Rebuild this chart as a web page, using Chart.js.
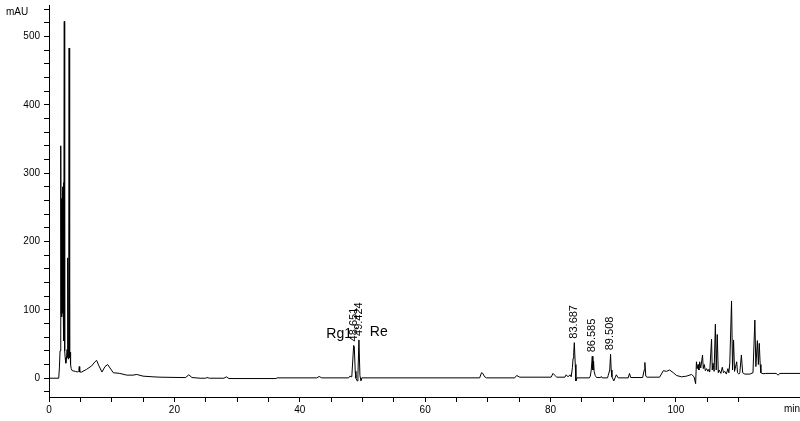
<!DOCTYPE html>
<html>
<head>
<meta charset="utf-8">
<script src="https://cdn.jsdelivr.net/npm/chart.js@4/dist/chart.umd.min.js"></script>
<style>
  body { margin: 0; background: #fff; }
  canvas { display: block; }
</style>
</head>
<body>
<canvas id="chromChart" width="800" height="421"></canvas>
<script>
// retention time (min) and detector signal (mAU)
var times = [
  0, 1.55, 1.66, 1.76, 1.84, 1.91, 1.95, 1.98, 2.01, 2.04, 2.07, 2.10, 2.13, 2.16, 2.19,
  2.22, 2.25, 2.28, 2.31, 2.34, 2.38, 2.44, 2.50, 2.58, 2.68, 2.78, 2.88, 2.95, 3.01,
  3.07, 3.13, 3.21, 3.27, 3.32, 3.37, 3.44, 3.54, 3.70, 4.20, 4.60, 4.76, 4.83, 4.90,
  5.2, 6.0, 6.8, 7.33, 7.6, 7.92, 8.45, 8.93, 9.36, 9.73, 10.26, 11.3, 12.4, 13.4, 14.0,
  15.0, 16.6, 17.7, 20.9, 21.8, 22.3, 22.8, 24.1, 25.0, 25.2, 25.6, 27.9, 28.3, 28.7,
  36.2, 36.4, 42.7, 43.1, 43.5, 47.8, 48.0, 48.3, 48.6, 48.7, 48.85, 48.96, 49.17,
  49.28, 49.44, 49.6, 49.76, 49.9, 68.7, 69.0, 69.2, 69.5, 69.8, 74.3, 74.6, 75.1,
  80.1, 80.4, 80.6, 81.0, 82.3, 82.5, 82.8, 83.1, 83.3, 83.5, 83.6, 83.7, 83.8, 83.95,
  84.05, 84.25, 86.2, 86.35, 86.5, 86.66, 86.76, 86.87, 86.96, 87.13, 87.35, 88.0,
  88.1, 88.25, 89.1, 89.2, 89.45, 89.58, 89.68, 89.8, 90.1, 90.3, 90.5, 90.8, 92.4,
  92.6, 92.8, 94.7, 94.95, 95.05, 95.2, 95.4, 97.4, 98.0, 98.5, 99.0, 99.6, 100.1,
  100.9, 101.7, 102.5, 102.9, 103.15, 103.28, 103.4, 103.55, 103.67, 103.8, 103.97,
  104.25, 104.37, 104.53, 104.7, 104.9, 105.1, 105.26, 105.4, 105.69, 105.8, 105.93,
  106.1, 106.3, 106.44, 106.6, 106.76, 106.9, 107.18, 107.4, 107.6, 107.8, 108.05,
  108.3, 108.45, 108.6, 108.88, 109.04, 109.2, 109.36, 109.7, 109.83, 110.05, 110.2,
  110.45, 110.65, 111.0, 111.8, 112.3, 112.6, 112.76, 113.0, 113.16, 113.3, 113.45,
  113.56, 113.9, 114.35, 116.0, 116.3, 116.6, 119.8
];
var signal = [
  0, 0, 15, 40, 58, 340, 95, 262, 100, 263, 90, 250, 95, 270, 110,
  280, 120, 286, 130, 240, 55, 522, 40, 30, 22, 28, 42, 30, 176,
  28, 36, 483, 40, 30, 38, 20, 14, 11, 10, 9, 11, 17, 9,
  9, 13, 18, 24, 26, 19, 9, 17, 20, 15, 8, 7, 4.5, 4.5, 5.5,
  3, 2, 1.5, 1, 1, 5, 1, 0, 0, 1, 0, 0, 2, -0.5,
  -0.5, 0.5, 0.5, 2.5, 0.5, 0.5, 3, 2, 48, 46, 10, 0, -4,
  5, 56, 4, -4, 0.5, 0.5, 8, 7, 2, 0.5, 0.5, 4, 1.5,
  1.5, 7, 5, 1.5, 1.5, 5, 2, 5, 2, 16, 29, 37, 52, 20,
  -4, 0.5, 0.5, 3, 12, 32, 12, 25, 10, 4, 1, 1,
  2.5, 0.5, 0.5, 4, 12, 35, 12, 2, -4, 0.5, 5, 0.5, 0.5,
  7, 1, 1, 12, 23, 3, 1.5, 1.5, 11, 10, 12, 8, 4,
  2, 3, 5.5, 2, -8, 24, 14, 20, 12, 24, 15,
  34, 14, 20, 11, 14, 10, 13, 9, 57, 12, 22,
  10, 79, 12, 64, 8, 12, 7, 16, 8, 10, 6,
  14, 8, 22, 113, 12, 56, 10, 24, 8, 6, 8,
  34, 8, 6, 6, 8, 85, 17, 55, 20, 51, 20,
  8, 6.5, 7, 7, 4.5, 7, 7
];

// integrated peaks: retention time label and apex height
var peakLabels = ['48.651', '49.424', '83.687', '86.585', '89.508'];
var peakTimes = [48.651, 49.424, 83.687, 86.585, 89.508];
var peakApex = [48, 56, 52, 32, 35];

// compound names next to the two ginsenoside peaks
var compoundNames = ['Rg1', 'Re'];
var compoundTimes = [48.651, 49.424];

var fontFamily = "'Liberation Sans', Arial, sans-serif";

var points = times.map(function (t, i) { return { x: t, y: signal[i] }; });

var peakText = {
  id: 'peakText',
  afterDatasetsDraw: function (chart) {
    var ctx = chart.ctx;
    var xs = chart.scales.x, ys = chart.scales.y;
    ctx.save();
    ctx.fillStyle = '#000';
    // rotated retention times above each integrated peak
    ctx.font = '11px ' + fontFamily;
    ctx.textAlign = 'left';
    ctx.textBaseline = 'middle';
    for (var i = 0; i < peakLabels.length; i++) {
      var px = xs.getPixelForValue(peakTimes[i]);
      var py = ys.getPixelForValue(peakApex[i]) - 4;
      ctx.save();
      ctx.translate(px, py);
      ctx.rotate(-Math.PI / 2);
      ctx.fillText(peakLabels[i], 0, 0);
      ctx.restore();
    }
    // compound names
    ctx.font = '14px ' + fontFamily;
    ctx.textBaseline = 'alphabetic';
    var y0 = ys.getPixelForValue(0);
    ctx.textAlign = 'right';
    ctx.fillText(compoundNames[0], xs.getPixelForValue(compoundTimes[0]) - 2, y0 - 40);
    ctx.textAlign = 'left';
    ctx.fillText(compoundNames[1], xs.getPixelForValue(compoundTimes[1]) + 11, y0 - 42);
    // axis titles
    ctx.font = '10px ' + fontFamily;
    ctx.textBaseline = 'middle';
    ctx.fillText('mAU', 6, 12);
    ctx.fillText('min', 784, 409);
    ctx.restore();
  }
};

new Chart(document.getElementById('chromChart'), {
  type: 'line',
  data: {
    datasets: [{
      data: points,
      borderColor: '#000',
      borderWidth: 1,
      pointRadius: 0,
      tension: 0,
      fill: false
    }]
  },
  options: {
    responsive: false,
    animation: false,
    devicePixelRatio: 1,
    layout: { padding: { top: 5, right: 0, left: 0, bottom: 0 } },
    plugins: {
      legend: { display: false },
      tooltip: { enabled: false }
    },
    scales: {
      x: {
        type: 'linear',
        min: 0,
        max: 119.8,
        afterFit: function (scale) {
          scale.height = 24;
          scale.paddingLeft = 0;
          scale.paddingRight = 0;
        },
        border: { display: true, color: '#000', width: 1 },
        grid: { drawOnChartArea: false, drawTicks: true, tickLength: 5, tickColor: '#000' },
        ticks: {
          stepSize: 5,
          autoSkip: false,
          maxRotation: 0,
          padding: 2,
          color: '#000',
          font: { family: fontFamily, size: 10 },
          callback: function (v) { return v % 20 === 0 ? v : ''; }
        }
      },
      y: {
        min: -27.5,
        max: 546,
        afterFit: function (scale) {
          scale.width = 49;
          scale.paddingTop = 0;
          scale.paddingBottom = 0;
        },
        border: { display: true, color: '#000', width: 1 },
        grid: { drawOnChartArea: false, drawTicks: true, tickLength: 5, tickColor: '#000' },
        ticks: {
          stepSize: 20,
          includeBounds: false,
          autoSkip: false,
          padding: 4,
          color: '#000',
          font: { family: fontFamily, size: 10 },
          callback: function (v) { return v % 100 === 0 ? v : ''; }
        }
      }
    }
  },
  plugins: [peakText]
});
</script>
</body>
</html>
